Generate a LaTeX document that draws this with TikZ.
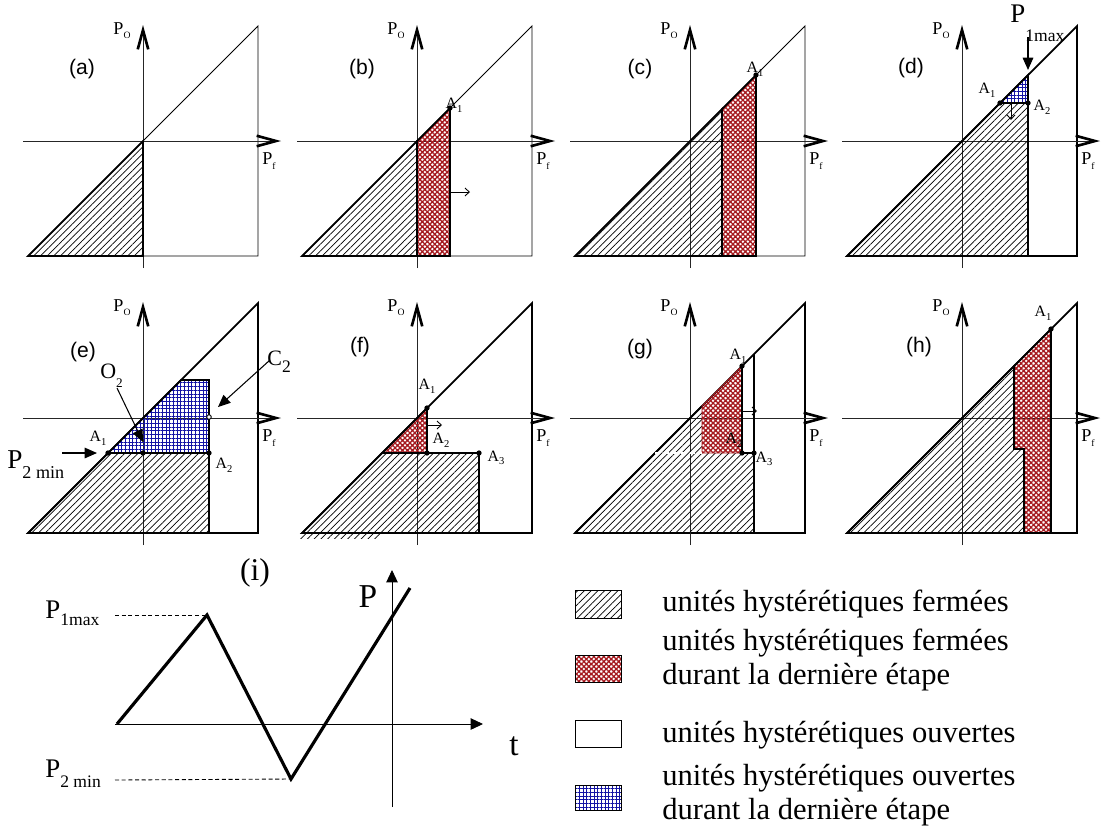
\documentclass[tikz,border=0pt]{standalone}
\usepackage{fontspec}
\setmainfont{Liberation Serif}
\newfontfamily\panelfont{Liberation Sans}
\usetikzlibrary{arrows.meta,patterns.meta}
\definecolor{closedred}{RGB}{165,25,30}
\definecolor{openblue}{RGB}{20,20,165}
\newcommand{\lsub}[3][5.5]{#2\raisebox{-0.5ex}{\fontsize{#1}{#1}\selectfont #3}}

\begin{document}
\begin{tikzpicture}[x=0.02cm, y=0.02cm,
  every node/.style={inner sep=0pt},
  axis/.style={draw=black!85, line width=0.5pt, -{Straight Barb[length=11pt,width=6pt,line width=1.5pt,color=black]}},
  bd/.style={line width=1pt},
  closed/.style={pattern={Lines[angle=45,distance=2.7pt,line width=0.4pt]}},
  closednew/.style={pattern={Hatch[angle=45,distance=2pt,line width=0.75pt]}, pattern color=closedred},
  opennew/.style={pattern={Hatch[angle=0,distance=2.1pt,line width=0.45pt]}, pattern color=openblue},
  tag/.style={font=\panelfont\fontsize{12}{12}\selectfont},
  plab/.style={font=\fontsize{10.3}{10.3}\selectfont},
  alab/.style={font=\fontsize{9}{9}\selectfont},
  push/.style={line width=0.5pt, -{Straight Barb[length=2.5pt,width=4.5pt]}},
  bigarr/.style={line width=0.6pt, -{Triangle[length=7pt,width=6pt]}},
  taxis/.style={line width=0.5pt, -{Triangle[length=7pt,width=6.5pt]}},
  legbox/.style={draw, line width=0.5pt},
  legtxt/.style={anchor=west, align=left, font=\fontsize{17.4}{19.5}\selectfont}]
\useasboundingbox (0,0) rectangle (1102,-833);

% frames and axes of the eight panels
\foreach \ox/\oy/\tg/\lw/\tx/\ty in {143/141/a/0.5/-61/72, 417/141/b/0.5/-55/72,
    690/141/c/0.5/-50/72, 962/141/d/1/-51/73, 143/418/e/1/-60/66,
    417/418/f/1/-57/71, 690/418/g/1/-50/69, 962/418/h/1/-43/71}
{
  \begin{scope}[shift={(\ox,-\oy)}]
    \draw[line width=\lw pt] (-115,-115) -- (115,115) -- (115,-115) -- cycle;
    \draw[axis] (0,-127) -- (0,116);
    \draw[axis] (-120,0) -- (138,0);
    \node[plab] (po-\tg) at (-21,110) {\lsub{P}{O}};
    \node[plab] (pf-\tg) at (126,-20) {\lsub{P}{f}};
    \node[tag] (tag-\tg) at (\tx,\ty) {(\tg)};
  \end{scope}
}

% (a)
\begin{scope}[shift={(143,-141)}]
\draw[bd, closed] (-115,-115) -- (0,0) -- (0,-115) -- cycle;
\end{scope}

% (b)
\begin{scope}[shift={(417,-141)}]
\draw[bd, closed] (-115,-115) -- (0,0) -- (0,-115) -- cycle;
\draw[bd, closednew] (0,0) -- (33,33) -- (33,-115) -- (0,-115) -- cycle;
\coordinate (b-A1) at (33,33);
\coordinate (b-s) at (33,-51);
\coordinate (b-e) at (53,-51);
\fill (b-A1) circle[radius=1.5pt];
\draw[push] (b-s) -- (b-e);
\node[alab] (b-A1l) at (37,36) {\lsub[6]{A}{1}};
\end{scope}

% (c)
\begin{scope}[shift={(690,-141)}]
\draw[bd, closed] (-115,-115) -- (32,32) -- (32,-115) -- cycle;
\draw[bd, closednew] (32,32) -- (66,66) -- (66,-115) -- (32,-115) -- cycle;
\coordinate (c-A1) at (66,66);
\fill (c-A1) circle[radius=1.5pt];
\node[alab] (c-A1l) at (65,72) {\lsub[6]{A}{1}};
\end{scope}

% (d)
\begin{scope}[shift={(962,-141)}]
\draw[bd, closed] (-115,-115) -- (38,38) -- (66,38) -- (66,-115) -- cycle;
\draw[bd, opennew] (38,38) -- (66,66) -- (66,38) -- cycle;
\coordinate (d-A1) at (38,38);
\coordinate (d-A2) at (66,38);
\coordinate (d-s) at (49,38);
\coordinate (d-e) at (49,21);
\coordinate (d-ps) at (66,104);
\coordinate (d-pe) at (66,71);
\fill (d-A1) circle[radius=1.5pt] (d-A2) circle[radius=1.5pt];
\draw[push] (d-s) -- (d-e);
\draw[bigarr, line width=0.8pt] (d-ps) -- (d-pe);
\node[alab] (d-A1l) at (25,51) {\lsub[6]{A}{1}};
\node[alab] (d-A2l) at (80,34) {\lsub[6]{A}{2}};
\node[anchor=base west, font=\fontsize{15.3}{15.3}\selectfont] (d-P1) at (48,119)
  {P\raisebox{-11pt}{\fontsize{10}{10}\selectfont 1max}};
\end{scope}

% (e)
\begin{scope}[shift={(143,-418)}]
\draw[bd, closed] (-115,-115) -- (-35,-35) -- (66,-35) -- (66,-115) -- cycle;
\draw[bd, opennew] (-35,-35) -- (38,38) -- (66,38) -- (66,-35) -- cycle;
\coordinate (e-A1) at (-35,-35);
\coordinate (e-O) at (0,-35);
\coordinate (e-A2) at (66,-35);
\coordinate (e-C) at (66,1);
\coordinate (e-ps) at (-81,-35);
\coordinate (e-pe) at (-46,-35);
\coordinate (e-os) at (-26,30);
\coordinate (e-oe) at (0,-24);
\coordinate (e-cs) at (127,58);
\coordinate (e-ce) at (75,11);
\fill (e-A1) circle[radius=1.5pt] (e-O) circle[radius=1.5pt] (e-A2) circle[radius=1.5pt];
\draw[fill=white, line width=0.5pt] (e-C) circle[radius=1.3pt];
\draw[bigarr] (e-ps) -- (e-pe);
\draw[bigarr] (e-os) -- (e-oe);
\draw[bigarr] (e-cs) -- (e-ce);
\node[alab] (e-A1l) at (-45,-20) {\lsub[6]{A}{1}};
\node[alab] (e-A2l) at (81,-47) {\lsub[6]{A}{2}};
\node[anchor=base west, font=\fontsize{15.5}{15.5}\selectfont] (e-P2) at (-136,-50)
  {P\raisebox{-5.7pt}{\fontsize{10.3}{10.3}\selectfont 2 min}};
\node[anchor=base west, font=\fontsize{12.5}{12.5}\selectfont] (e-O2) at (-43,40)
  {O\raisebox{-5.5pt}{\fontsize{7.5}{7.5}\selectfont 2}};
\node[anchor=base west, font=\fontsize{12.5}{12.5}\selectfont] (e-C2) at (124,53)
  {C\raisebox{-4pt}{\fontsize{10}{10}\selectfont 2}};
\end{scope}

% (f)
\begin{scope}[shift={(417,-418)}]
\fill[closed] (-117,-115) rectangle (-37,-120);
\draw[bd, closed] (-115,-115) -- (-35,-35) -- (62,-35) -- (62,-115) -- cycle;
\draw[bd, closednew] (-35,-35) -- (10,10) -- (10,-35) -- cycle;
\coordinate (f-A1) at (10,10);
\coordinate (f-A2) at (10,-35);
\coordinate (f-A3) at (62,-35);
\coordinate (f-s) at (10,-7);
\coordinate (f-e) at (25,-7);
\fill (f-A1) circle[radius=1.5pt] (f-A2) circle[radius=1.5pt] (f-A3) circle[radius=1.5pt];
\draw[push] (f-s) -- (f-e);
\node[alab] (f-A1l) at (10,32) {\lsub[6]{A}{1}};
\node[alab] (f-A2l) at (24,-22) {\lsub[6]{A}{2}};
\node[alab] (f-A3l) at (79,-40) {\lsub[6]{A}{3}};
\end{scope}

% (g)
\begin{scope}[shift={(690,-418)}]
\fill[closed] (-115,-115) -- (12,12) -- (12,-35) -- (64,-35) -- (64,-115) -- cycle;
\draw[bd] (-115,-115) -- (12,12);
\draw[bd] (52,-35) -- (64,-35) -- (64,-115);
\filldraw[closednew, draw=closedred, line width=0.5pt] (12,12) -- (52,52) -- (52,-35) -- (12,-35) -- cycle;
\draw[line width=0.6pt] (64,-35) -- (64,64);
\coordinate (g-A1) at (52,52);
\coordinate (g-A2) at (52,-35);
\coordinate (g-A3) at (64,-35);
\coordinate (g-w) at (-35,-35);
\coordinate (g-s) at (52,7);
\coordinate (g-e) at (67,7);
\draw[white, line width=1pt, dash pattern=on 3pt off 2pt] (g-w) -- (12,-35);
\draw[line width=1.5pt] (g-A1) -- (g-A2);
\fill (g-A1) circle[radius=1.5pt] (g-A2) circle[radius=1.5pt] (g-A3) circle[radius=1.5pt];
\draw[push] (g-s) -- (g-e);
\node[alab] (g-A1l) at (48,62) {\lsub[6]{A}{1}};
\node[alab] (g-A2l) at (44,-22) {\lsub[6]{A}{2}};
\node[alab] (g-A3l) at (74,-41) {\lsub[6]{A}{3}};
\end{scope}

% (h)
\begin{scope}[shift={(962,-418)}]
\draw[bd, closed] (-115,-115) -- (52,52) -- (52,-31) -- (62,-31) -- (62,-115) -- cycle;
\draw[bd, closednew] (52,52) -- (89,89) -- (89,-115) -- (62,-115) -- (62,-31) -- (52,-31) -- cycle;
\coordinate (h-A1) at (89,89);
\fill (h-A1) circle[radius=1.5pt];
\node[alab] (h-A1l) at (81,105) {\lsub[6]{A}{1}};
\end{scope}

% (i) loading history
\coordinate (i-t0) at (115,-724);
\coordinate (i-t1) at (483,-724);
\coordinate (i-p0) at (392,-807);
\coordinate (i-p1) at (392,-570);
\coordinate (i-0) at (117,-724);
\coordinate (i-max) at (207,-615);
\coordinate (i-min) at (291,-779);
\coordinate (i-end) at (410,-588);
\draw[taxis] (i-t0) -- (i-t1);
\draw[taxis] (i-p0) -- (i-p1);
\draw[line width=1.8pt, line join=miter] (i-0) -- (i-max) -- (i-min) -- (i-end);
\draw[dash pattern=on 2.3pt off 1.5pt, line width=0.5pt] (115,-615) -- (i-max);
\draw[dash pattern=on 2.3pt off 1.5pt, line width=0.5pt] (115,-780) -- (i-min);
\node[anchor=base west, font=\fontsize{15.3}{15.3}\selectfont] (i-P1) at (45,-618)
  {P\raisebox{-4.5pt}{\fontsize{10}{10}\selectfont 1max}};
\node[anchor=base west, font=\fontsize{15.3}{15.3}\selectfont] (i-P2) at (45,-777)
  {P\raisebox{-6pt}{\fontsize{10}{10}\selectfont 2 min}};
\node[font=\fontsize{18}{18}\selectfont] (i-tag) at (255,-573) {(i)};
\node[font=\fontsize{19}{19}\selectfont] (i-P) at (368,-597) {P};
\node[font=\fontsize{19}{19}\selectfont] (i-t) at (514,-746) {t};

% legend
\draw[legbox, closed] (575,-590) rectangle (621,-618);
\draw[legbox, closednew] (575,-655) rectangle (621,-682);
\draw[legbox] (575,-720) rectangle (621,-747);
\draw[legbox, opennew] (575,-785) rectangle (621,-810);
\node[legtxt] (leg1) at (662,-604) {unités hystérétiques fermées};
\node[legtxt] (leg2) at (662,-660) {unités hystérétiques fermées\\durant la dernière étape};
\node[legtxt] (leg3) at (662,-735) {unités hystérétiques ouvertes};
\node[legtxt] (leg4) at (662,-795) {unités hystérétiques ouvertes\\durant la dernière étape};
\end{tikzpicture}
\end{document}
